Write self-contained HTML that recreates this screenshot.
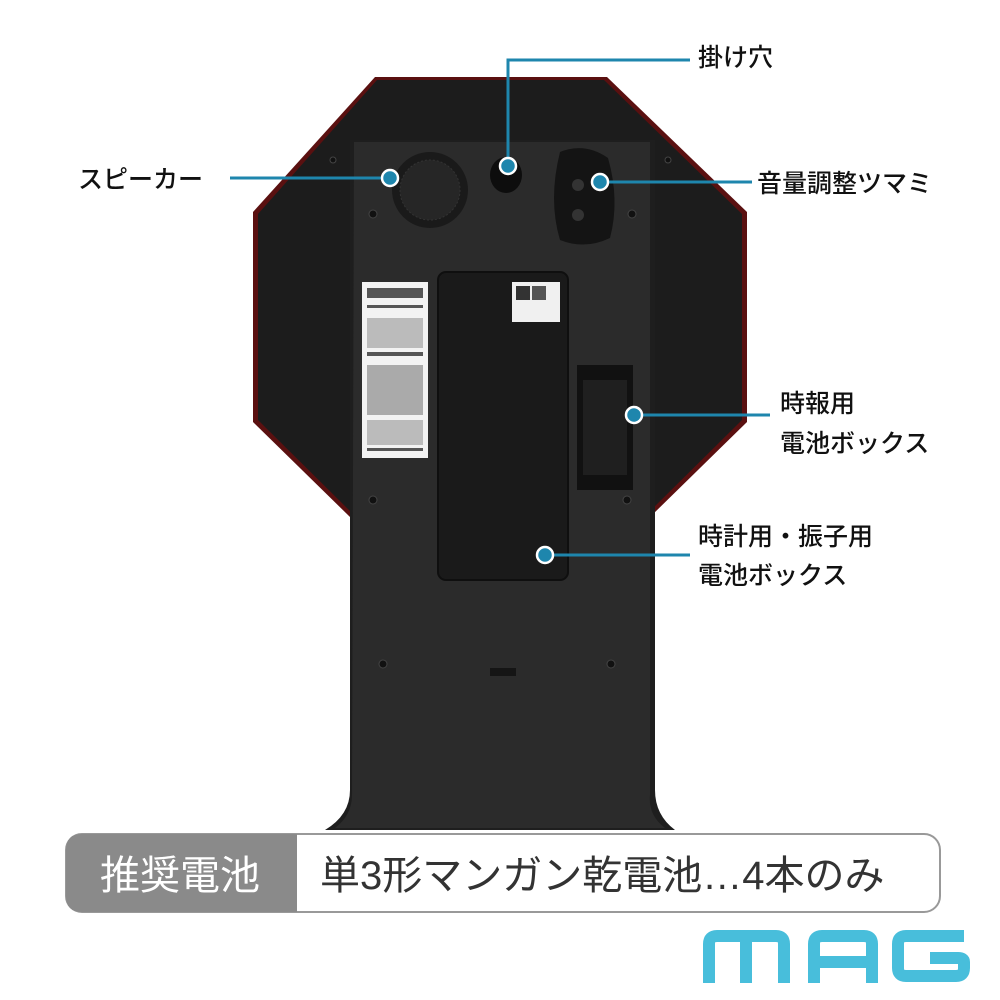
<!DOCTYPE html>
<html><head><meta charset="utf-8"><style>
html,body{margin:0;padding:0;background:#fff}
svg{display:block}
text{font-family:"Liberation Sans","Noto Sans CJK JP",sans-serif}
</style></head><body>
<svg width="1000" height="1000" viewBox="0 0 1000 1000" xmlns="http://www.w3.org/2000/svg">
<polygon points="375,77 607,77 747,212 747,422 650,517 350,517 253,422 253,212" fill="#5a1010"/>
<polygon points="377,80 604,80 742,214 742,420 648,513 352,513 258,420 258,214" fill="#1c1c1c"/>
<path d="M350,140 L655,140 L655,790 Q655,815 675,830 L325,830 Q350,815 350,790 Z" fill="#1e1e1e"/>
<path d="M354,142 L650,142 L650,795 Q648,815 665,828 L335,828 Q352,815 352,795 Z" fill="#2b2b2b"/>
<circle cx="430" cy="190" r="38" fill="#1a1a1a"/>
<circle cx="430" cy="190" r="30" fill="#262626" stroke="#333" stroke-width="1" stroke-dasharray="2 2"/>
<ellipse cx="506" cy="175" rx="16" ry="18" fill="#0d0d0d"/>
<path d="M560,152 Q585,142 608,158 Q620,200 610,238 Q585,250 560,240 Q548,200 560,152Z" fill="#141414"/>
<circle cx="578" cy="185" r="6" fill="#333"/><circle cx="578" cy="215" r="6" fill="#333"/>
<g fill="#111" stroke="#444" stroke-width="1">
<circle cx="373" cy="214" r="4"/><circle cx="632" cy="214" r="4"/><circle cx="373" cy="500" r="4"/><circle cx="627" cy="500" r="4"/>
<circle cx="383" cy="664" r="4"/><circle cx="611" cy="664" r="4"/><circle cx="333" cy="160" r="3"/><circle cx="668" cy="160" r="3"/>
</g>
<rect x="362" y="282" width="66" height="176" fill="#f2f2f2"/>
<g fill="#555"><rect x="367" y="288" width="56" height="10"/><rect x="367" y="305" width="56" height="3"/><rect x="367" y="318" width="56" height="30" fill="#bbb"/><rect x="367" y="352" width="56" height="4"/><rect x="367" y="365" width="56" height="50" fill="#aaa"/><rect x="367" y="420" width="56" height="25" fill="#bbb"/><rect x="367" y="448" width="56" height="3"/></g>
<rect x="438" y="272" width="130" height="308" rx="8" fill="#1a1a1a" stroke="#0f0f0f" stroke-width="2"/>
<rect x="512" y="282" width="48" height="40" fill="#f0f0f0"/>
<rect x="516" y="286" width="14" height="14" fill="#333"/><rect x="532" y="286" width="14" height="14" fill="#555"/>
<rect x="577" y="365" width="56" height="125" fill="#111"/>
<rect x="583" y="380" width="44" height="95" fill="#1f1f1f"/>
<rect x="490" y="668" width="26" height="8" fill="#151515"/>
<g stroke="#1e86ad" stroke-width="3" fill="none">
<line x1="230" y1="178" x2="390" y2="178"/>
<polyline points="508,168 508,60 690,60"/>
<line x1="600" y1="182" x2="752" y2="182"/>
<line x1="634" y1="415" x2="770" y2="415"/>
<line x1="545" y1="555" x2="690" y2="555"/>
</g>
<g fill="#1e86ad" stroke="#fff" stroke-width="2.5">
<circle cx="390" cy="178" r="8"/><circle cx="508" cy="166" r="8"/><circle cx="600" cy="182" r="8"/><circle cx="634" cy="415" r="8"/><circle cx="545" cy="555" r="8"/>
</g>
<g font-size="25" fill="#111" font-weight="500">
<text x="78" y="188">スピーカー</text>
<text x="698" y="66">掛け穴</text>
<text x="757" y="192">音量調整ツマミ</text>
<text x="780" y="412">時報用</text>
<text x="780" y="452">電池ボックス</text>
<text x="698" y="545">時計用・振子用</text>
<text x="698" y="584">電池ボックス</text>
</g>
<rect x="66" y="834" width="874" height="78" rx="16" fill="#fff" stroke="#999" stroke-width="2"/>
<path d="M82,834 L297,834 L297,912 L82,912 Q66,912 66,896 L66,850 Q66,834 82,834Z" fill="#8a8a8a"/>
<text x="100" y="889" font-size="40" fill="#fff">推奨電池</text>
<text x="320" y="889" font-size="40" fill="#333">単3形マンガン乾電池…4本のみ</text>
<g fill="none" stroke="#48bedb" stroke-width="12" stroke-linejoin="round">
<path d="M709,983 L709,944 Q709,936 717,936 L776,936 Q784,936 784,944 L784,983 M746,936 L746,983"/>
<path d="M814,983 L814,944 Q814,936 822,936 L864,936 Q872,936 872,944 L872,983 M814,962 L872,962"/>
<path d="M964,936 L906,936 Q898,936 898,944 L898,968 Q898,976 906,976 L956,976 Q964,976 964,968 L964,962 Q964,958 958,958 L930,958"/>
</g>
</svg>
</body></html>
